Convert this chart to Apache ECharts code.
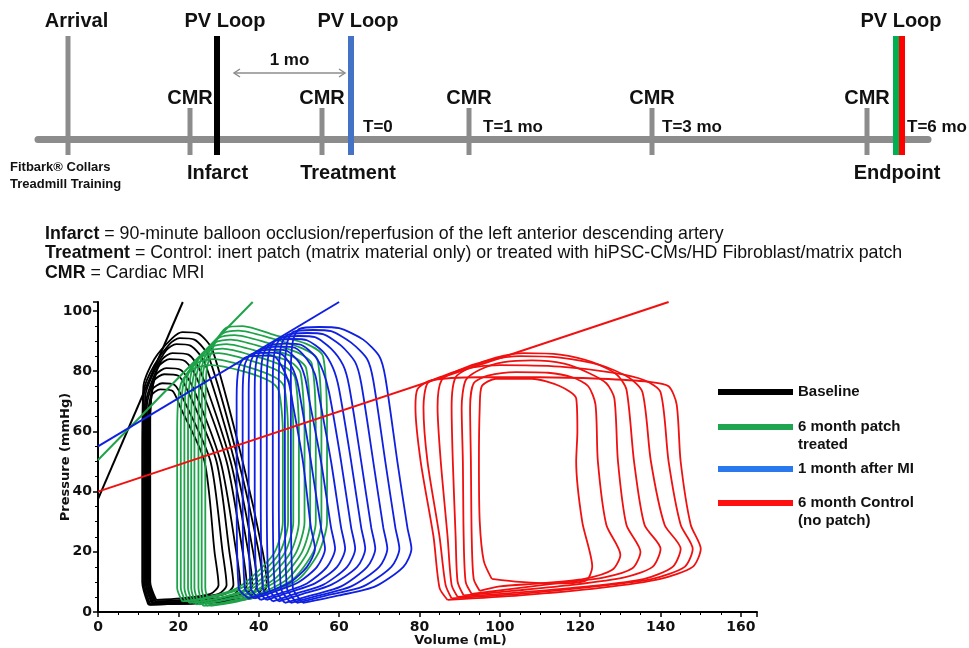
<!DOCTYPE html>
<html>
<head>
<meta charset="utf-8">
<title>PV loops</title>
<script src="https://cdn.jsdelivr.net/npm/echarts@6/dist/echarts.min.js"></script>
<style>
  html, body { margin: 0; padding: 0; background: #fff; }
  #main { width: 969px; height: 648px; }
</style>
</head>
<body>
<div id="main"></div>
<script>
// ---- study timeline (units along the bar, about 10 px each) ----
const arrivalAt = [3.0];
const cmrAt = [15.2, 28.4, 43.1, 61.4, 82.9];
const pvLoopAt = [17.9, 31.3, 85.8, 86.4];
const pvLoopGroup = ['Baseline', '1 month after MI', '6 month patch treated', '6 month Control (no patch)'];
const topLabels = ['Arrival', 'PV Loop', 'PV Loop', 'PV Loop'];
const topLabelAt = [3.85, 18.7, 32.0, 86.3];
const phaseNames = ['Infarct', 'Treatment', 'Endpoint'];
const phaseAt = [17.95, 31.0, 85.9];
const periodNames = ['T=0', 'T=1 mo', 'T=3 mo', 'T=6 mo'];
const periodAt = [32.5, 44.5, 62.4, 86.9];
const intervalSpan = [19.6, 30.7];
const intervalName = '1 mo';
const arrivalNote = 'Fitbark® Collars\nTreadmill Training';
const arrivalNoteAt = [-2.8];

// ---- PV loops, [volume mL, pressure mmHg] ----
const baselineLoops = [
  [[12.5,2.5],[11,10],[11,50],[11.3,75],[14,84],[18.5,91],[21,93],[25,92.5],[28.5,87],[36,50],[41,20],[42,9],[40,5],[27,3],[12.5,2.5]],
  [[12.7,2.5],[11.2,10],[11.2,50],[11.5,74],[14,82],[17.8,89],[20.3,91],[24,90.5],[27.5,85],[35,50],[40,20],[41,9],[39,5],[26,3],[12.7,2.5]],
  [[13,2.5],[11.5,10],[11.5,50],[11.8,72],[14,80],[17,87],[19.5,89],[23,88.5],[26.5,83],[34,50],[38.6,20],[39.6,9],[37.6,5],[25.5,3],[13,2.5]],
  [[13.3,3],[11.8,10],[11.8,50],[12,70],[13.8,78],[16,84],[18.5,86],[22.5,85.5],[25.5,80],[33,50],[37.4,20],[38.4,9],[36.4,5.5],[25,3.5],[13.3,3]],
  [[13.5,3],[12,10],[12,50],[12.2,69],[13.8,77],[15.3,82],[17.8,84],[21.5,83.5],[24.5,78],[32,50],[36,20],[37,9],[35,5.5],[24,3.5],[13.5,3]],
  [[13.8,3],[12.3,10],[12.3,50],[12.5,67],[13.5,74],[14.5,79],[17,81],[20.5,80.5],[23.5,75],[30.5,50],[34.4,20],[35.4,9],[33.4,5.5],[23,3.5],[13.8,3]],
  [[14,3.5],[12.5,10],[12.5,50],[12.7,66],[13.4,72],[14,77],[16.5,79],[20,78.5],[22.5,73],[29.5,50],[32.7,20],[33.7,9],[31.7,6],[22,4],[14,3.5]],
  [[14.3,3.5],[12.8,10],[12.8,50],[12.9,64],[13.2,70],[13.5,74],[16,76],[19,75.5],[21.5,70],[28,50],[31,20],[32,9],[30,6],[21,4],[14.3,3.5]],
  [[14.5,4],[13,10],[13,50],[13,63],[13.1,69],[13.3,72],[15.5,74],[18.5,73.5],[20.5,68],[26.5,50],[29,20],[30,9],[28,6],[20.5,4.5],[14.5,4]]
];

const patchLoops = [
  [[28,2],[26.7,8],[26.7,60],[27,80],[29,89],[32,94.5],[36,95],[44,92],[52,89],[56,85],[57,60],[57,30],[55,20],[50,11],[42,6],[33,3],[28,2]],
  [[27,2],[25.8,8],[25.8,60],[26.1,79],[28,87.5],[31,92.5],[35,93.5],[43,91],[51,87.5],[54.6,84],[55.6,60],[55.6,30],[53.6,20],[48.6,11],[41,6],[32,3],[27,2]],
  [[26.2,2],[25,8],[25,60],[25.3,78],[27,86],[30,91],[34,92],[42,89.5],[50,86],[53.2,82.5],[54.2,60],[54.2,30],[52.2,20],[47.2,11],[40,6],[31,3],[26.2,2]],
  [[25.2,2.5],[24,8],[24,60],[24.3,77],[26,85],[29,89.5],[33,90.5],[41,88],[49,84.5],[51.8,81],[52.8,60],[52.8,30],[50.8,20],[45.8,11.5],[39,6.5],[30,3.5],[25.2,2.5]],
  [[24.4,2.5],[23.2,8],[23.2,60],[23.5,76],[25,84],[28,88],[32,89],[40,86.5],[48,83],[50.4,79.5],[51.4,60],[51.4,30],[49.4,20],[44.4,11.5],[38,6.5],[29,3.5],[24.4,2.5]],
  [[23.6,3],[22.4,8],[22.4,60],[22.7,75],[24,82.5],[27,86.5],[31,87.5],[39,85],[46.5,81.5],[49,78],[50,60],[50,30],[48,20],[43,12],[37,7],[28.5,4],[23.6,3]],
  [[22.7,3],[21.5,8],[21.5,60],[21.8,74],[23,81],[26,85],[30,86],[38,83.5],[45,80],[47.6,76.5],[48.6,60],[48.6,30],[46.6,20],[41.6,12],[36,7],[28,4],[22.7,3]],
  [[21.8,3.5],[20.6,8],[20.6,60],[20.9,72.5],[22,79],[25,83],[29,84],[37,81.5],[44,78],[46.3,75],[47.3,60],[47.3,30],[45.3,20],[40.3,12.5],[35,7.5],[27,4.5],[21.8,3.5]],
  [[21,3.5],[19.7,8],[19.7,60],[20,71],[21,77],[24,81],[28,82],[36,80],[43,76.5],[45,73.5],[46,60],[46,30],[44,20],[39,12.5],[34,7.5],[26,4.5],[21,3.5]]
];

const afterMiLoops = [
  [[51,3],[48.5,8],[48,40],[48,80],[48.5,90],[50,94],[55,94.7],[60,94.3],[66,90.5],[70,85],[71.5,78],[74.5,50],[77,28],[78,21],[76,15],[69,8.5],[60,5.5],[51,3]],
  [[49.5,3],[47,8],[46.5,40],[46.5,79],[47,89],[48.5,93],[53.5,93.7],[58,93.3],[63,89.5],[67,84],[68.5,77],[71.5,50],[74,28],[75,21],[73,15],[66,8.5],[57,5.5],[49.5,3]],
  [[48,3],[45.5,8],[45,40],[45,78],[45.5,88],[47,92],[52,92.7],[56,92.3],[60.5,88.5],[64,83],[65.5,76],[68.5,50],[71,28],[72,21],[70,15],[63,8.5],[55,5.5],[48,3]],
  [[46.5,3],[44,8],[43.5,40],[43.5,77],[44,87],[45.5,91],[50,91.7],[54,91.3],[58,87.5],[61,82],[62.5,75],[65.5,50],[68,28],[69,21],[67,15],[60.5,8.5],[53,5.5],[46.5,3]],
  [[45,3.5],[42.5,8],[42,40],[42,76],[42.5,86],[44,90],[48.5,90.7],[52,90.3],[56,86.5],[58.5,81],[60,74],[63,50],[65.5,28],[66.5,21],[64.5,15],[58,9],[51,6],[45,3.5]],
  [[43.5,3.5],[41,8],[40.5,40],[40.5,75],[41,85],[42.5,88.5],[47,89.2],[50.5,88.8],[54,85],[56,80],[57.5,73],[60.5,50],[63,28],[64,21],[62,15],[56,9],[49,6],[43.5,3.5]],
  [[42,4],[39.5,8],[39,40],[39,74],[39.5,84],[41,87.5],[45.5,88.2],[49,87.8],[52,84],[54,79],[55,72],[58,50],[60.5,28],[61.5,21],[59.5,15],[54,9.5],[47.5,6.5],[42,4]],
  [[40.5,4],[38,8],[37.5,40],[37.5,73],[38,83],[39.5,86.5],[44,87.2],[47,86.8],[50,83],[51.5,78],[52.5,71],[55.5,50],[58,28],[59,21],[57,15],[52,9.5],[46,6.5],[40.5,4]],
  [[39,4.5],[36.5,8],[36,40],[36,72],[36.5,82],[38,85.5],[42.5,86.2],[45.5,85.8],[48,82],[49.5,77],[50.5,70],[53,50],[55.5,28],[56.5,21],[54.5,15],[50,10],[44.5,7],[39,4.5]],
  [[37.5,4.5],[35,8],[34.5,40],[34.5,71],[35,81],[36.5,84.5],[41,85.2],[44,84.8],[46,81],[47.5,76],[48.5,69],[51,50],[53,28],[54,21],[52,15],[48,10],[43,7],[37.5,4.5]]
];

const controlLoops = [
  [[87,4],[85,8],[83.5,25],[80.3,50],[79,68],[79.5,74],[83,77],[95,78],[110,78],[125,77.5],[137,76.5],[142,75],[144,69],[145,50],[147.5,29],[150,21],[148,15],[140,11],[125,8],[105,5.5],[87,4]],
  [[88,4.5],[86.5,9],[85,25],[82,50],[81,68],[82,76],[86,78.5],[92,81],[100,82],[115,81.5],[128,79.5],[136,77],[140,73],[142,50],[145,29],[148,21],[146,15],[138,11],[124,8.5],[105,6],[88,4.5]],
  [[89.5,5],[88,9],[87,25],[85.3,50],[84.5,68],[85.5,77],[90,80.5],[97,83.5],[105,85],[115,84.5],[125,82],[132,78],[135.5,73],[137.6,50],[141,29],[145,21],[143,15],[136,11],[122,8.5],[105,6.5],[89.5,5]],
  [[91,5.5],[89.5,10],[89,25],[88.3,50],[88,68],[89,78],[93,81.5],[99,84.5],[106,86],[115,85.5],[123,83],[129,79],[131.5,74],[133.4,50],[136,29],[140,21],[138,15],[131,11.5],[118,9],[103,7],[91,5.5]],
  [[93,6],[91.5,10],[91,25],[90.8,50],[90.5,68],[91.5,77],[95,80.5],[101,83],[108,83.6],[116,82.5],[122,79.5],[126.5,76],[128.5,71],[129.4,50],[131.5,29],[135,20],[133,14.5],[126,11.5],[114,9.5],[102,7.5],[93,6]],
  [[95,7],[93.5,11],[93,25],[92.8,50],[92.6,68],[93.5,76],[97,78.5],[104,79.7],[112,79.5],[118,78],[122,75],[123.8,69],[124.4,50],[126.5,29],[130,19],[128,14],[121,11],[110,9.5],[100,8.5],[95,7]],
  [[98,11],[96,17],[95,30],[94.8,50],[95,68],[95.5,75],[99,77.5],[108,77.5],[115,75],[119,71],[119.3,60],[119,50],[120.5,30],[123,15],[121.5,10.5],[115,9.5],[105,10],[98,11]]
];

// end-systolic pressure-volume relation lines
const espvrBaseline = [[0, 37.5], [21.1, 103]];
const espvrPatch = [[0, 50.5], [38.5, 103]];
const espvrAfterMi = [[0, 55], [60, 103]];
const espvrControl = [[0, 40], [142, 103]];

const legendNames = ['Baseline', '6 month patch treated', '1 month after MI', '6 month Control (no patch)'];
// two-line entries get an empty first line so the swatch sits on the first text line
const legendText = ['Baseline', '\n6 month patch\ntreated', '1 month after MI', '\n6 month Control\n(no patch)'];

// ---- styles ----
const colors = {
  'Baseline': '#000000',
  '6 month patch treated': '#1fa34a',
  '1 month after MI': '#1020e0',
  '6 month Control (no patch)': '#f01010'
};
const legendColors = ['#000000', '#1fa550', '#2a78ee', '#ff1010'];
const timelineColors = {
  'Baseline': '#000000',
  '1 month after MI': '#4472c4',
  '6 month patch treated': '#00b050',
  '6 month Control (no patch)': '#ff0000'
};
const barGray = '#8c8c8c';
const axisFont = 'DejaVu Sans';
const arial = 'Liberation Sans';

const myChart = echarts.init(document.querySelector('#main'));

function loopSeries(name, loops) {
  return loops.map(d => ({
    type: 'line',
    name: name,
    data: d,
    xAxisIndex: 0,
    yAxisIndex: 0,
    symbol: 'none',
    smooth: 0.25,
    silent: true,
    lineStyle: { color: colors[name], width: 1.8 },
    itemStyle: { color: colors[name] }
  }));
}

function espvrSeries(name, d) {
  return {
    type: 'line',
    name: name,
    data: d,
    xAxisIndex: 0,
    yAxisIndex: 0,
    symbol: 'none',
    silent: true,
    lineStyle: { color: colors[name], width: 2 },
    itemStyle: { color: colors[name] }
  };
}

// vertical marks on the timeline bar
function tickSeries(positions, colorOf, up, down, width) {
  return {
    type: 'custom',
    xAxisIndex: 1,
    yAxisIndex: 1,
    silent: true,
    data: positions.map(p => [p]),
    renderItem: function (params, api) {
      const pt = api.coord([api.value(0), 0]);
      return {
        type: 'rect',
        shape: { x: pt[0] - width / 2, y: pt[1] - up, width: width, height: up + down },
        style: { fill: colorOf(params.dataIndex) }
      };
    }
  };
}

// text placed along the timeline
function labelSeries(names, positions, dy, font, align) {
  return {
    type: 'custom',
    xAxisIndex: 1,
    yAxisIndex: 1,
    silent: true,
    data: positions.map(p => [p]),
    renderItem: function (params, api) {
      const pt = api.coord([api.value(0), 0]);
      return {
        type: 'text',
        x: pt[0],
        y: pt[1] + dy,
        style: {
          text: names[params.dataIndex],
          font: font,
          fill: '#111',
          align: align,
          verticalAlign: 'middle',
          lineHeight: 17
        }
      };
    }
  };
}

// double arrow for the "1 mo" gap
const arrowSeries = {
  type: 'custom',
  xAxisIndex: 1,
  yAxisIndex: 1,
  silent: true,
  data: [intervalSpan],
  renderItem: function (params, api) {
    const a = api.coord([api.value(0), 0]);
    const b = api.coord([api.value(1), 0]);
    const y = a[1] - 66;
    const st = { stroke: '#8c8c8c', lineWidth: 1.5, fill: null };
    return {
      type: 'group',
      children: [
        { type: 'line', shape: { x1: a[0], y1: y, x2: b[0], y2: y }, style: st },
        { type: 'polyline', shape: { points: [[a[0] + 6, y - 4], [a[0], y], [a[0] + 6, y + 4]] }, style: st },
        { type: 'polyline', shape: { points: [[b[0] - 6, y - 4], [b[0], y], [b[0] - 6, y + 4]] }, style: st }
      ]
    };
  }
};

const legendBase = {
  orient: 'vertical',
  left: 718,
  icon: 'rect',
  itemWidth: 75,
  itemHeight: 6,
  itemGap: 0,
  padding: 0,
  selectedMode: false,
  textStyle: { fontFamily: arial, fontWeight: 'bold', fontSize: 15, lineHeight: 18, color: '#111' }
};
const legendTops = [383, 400, 460, 476];

const option = {
  animation: false,
  backgroundColor: '#fff',
  title: {
    left: 45,
    top: 224,
    padding: 0,
    text: '{b|Infarct} = 90-minute balloon occlusion/reperfusion of the left anterior descending artery\n' +
      '{b|Treatment} = Control: inert patch (matrix material only) or treated with hiPSC-CMs/HD Fibroblast/matrix patch\n' +
      '{b|CMR} = Cardiac MRI',
    textStyle: {
      fontFamily: arial,
      fontSize: 17.8,
      fontWeight: 'normal',
      color: '#111',
      lineHeight: 19.5,
      rich: {
        b: { fontFamily: arial, fontSize: 17.8, fontWeight: 'bold', color: '#111', lineHeight: 19.5 }
      }
    }
  },
  legend: legendNames.map((n, i) => Object.assign({}, legendBase, {
    top: legendTops[i],
    data: [{ name: n, itemStyle: { color: legendColors[i] } }],
    formatter: () => legendText[i]
  })),
  grid: [
    { left: 98, top: 302, width: 659, height: 310 },
    { left: 38, top: 100, width: 890, height: 39 }
  ],
  xAxis: [
    {
      gridIndex: 0,
      type: 'value',
      min: 0,
      max: 164,
      interval: 20,
      name: 'Volume (mL)',
      nameLocation: 'middle',
      nameGap: 22,
      nameMoveOverlap: false,
      nameTextStyle: { fontFamily: axisFont, fontWeight: 'bold', fontSize: 13, color: '#111', padding: [0, 0, 0, 66] },
      axisLine: { lineStyle: { color: '#000', width: 2 } },
      axisTick: { length: 5, lineStyle: { color: '#000', width: 1.5 } },
      minorTick: { show: true, splitNumber: 4, length: 3, lineStyle: { color: '#000', width: 1 } },
      splitLine: { show: false },
      axisLabel: { fontFamily: axisFont, fontWeight: 'bold', fontSize: 14, color: '#111', margin: 8 }
    },
    {
      gridIndex: 1,
      type: 'value',
      min: 0,
      max: 89,
      axisLine: { lineStyle: { color: barGray, width: 7 } },
      axisTick: { show: false },
      axisLabel: { show: false },
      splitLine: { show: false }
    }
  ],
  yAxis: [
    {
      gridIndex: 0,
      type: 'value',
      min: 0,
      max: 103,
      interval: 20,
      name: 'Pressure (mmHg)',
      nameLocation: 'middle',
      nameGap: 26,
      nameMoveOverlap: false,
      nameTextStyle: { fontFamily: axisFont, fontWeight: 'bold', fontSize: 13, color: '#111' },
      axisLine: { show: true, lineStyle: { color: '#000', width: 2 } },
      axisTick: { show: true, length: 5, lineStyle: { color: '#000', width: 1.5 } },
      minorTick: { show: true, splitNumber: 4, length: 3, lineStyle: { color: '#000', width: 1 } },
      splitLine: { show: false },
      axisLabel: { fontFamily: axisFont, fontWeight: 'bold', fontSize: 14, color: '#111', margin: 6 }
    },
    { gridIndex: 1, type: 'value', min: 0, max: 1, show: false }
  ],
  series: [].concat(
    loopSeries('Baseline', baselineLoops),
    loopSeries('6 month patch treated', patchLoops),
    loopSeries('1 month after MI', afterMiLoops),
    loopSeries('6 month Control (no patch)', controlLoops),
    [
      espvrSeries('Baseline', espvrBaseline),
      espvrSeries('6 month patch treated', espvrPatch),
      espvrSeries('1 month after MI', espvrAfterMi),
      espvrSeries('6 month Control (no patch)', espvrControl),
      tickSeries(arrivalAt, () => barGray, 103, 16, 5),
      tickSeries(cmrAt, () => barGray, 31, 16, 5),
      tickSeries(pvLoopAt, i => timelineColors[pvLoopGroup[i]], 103, 16, 6),
      labelSeries(topLabels, topLabelAt, -118, 'bold 20px "Liberation Sans"', 'center'),
      labelSeries(cmrAt.map(() => 'CMR'), cmrAt, -41, 'bold 20px "Liberation Sans"', 'center'),
      labelSeries(periodNames, periodAt, -12, 'bold 17px "Liberation Sans"', 'left'),
      labelSeries(phaseNames, phaseAt, 34, 'bold 20px "Liberation Sans"', 'center'),
      labelSeries([arrivalNote], arrivalNoteAt, 37, 'bold 13px "Liberation Sans"', 'left'),
      labelSeries([intervalName], [(intervalSpan[0] + intervalSpan[1]) / 2], -79, 'bold 17px "Liberation Sans"', 'center'),
      arrowSeries
    ]
  )
};

myChart.setOption(option);
</script>
</body>
</html>
